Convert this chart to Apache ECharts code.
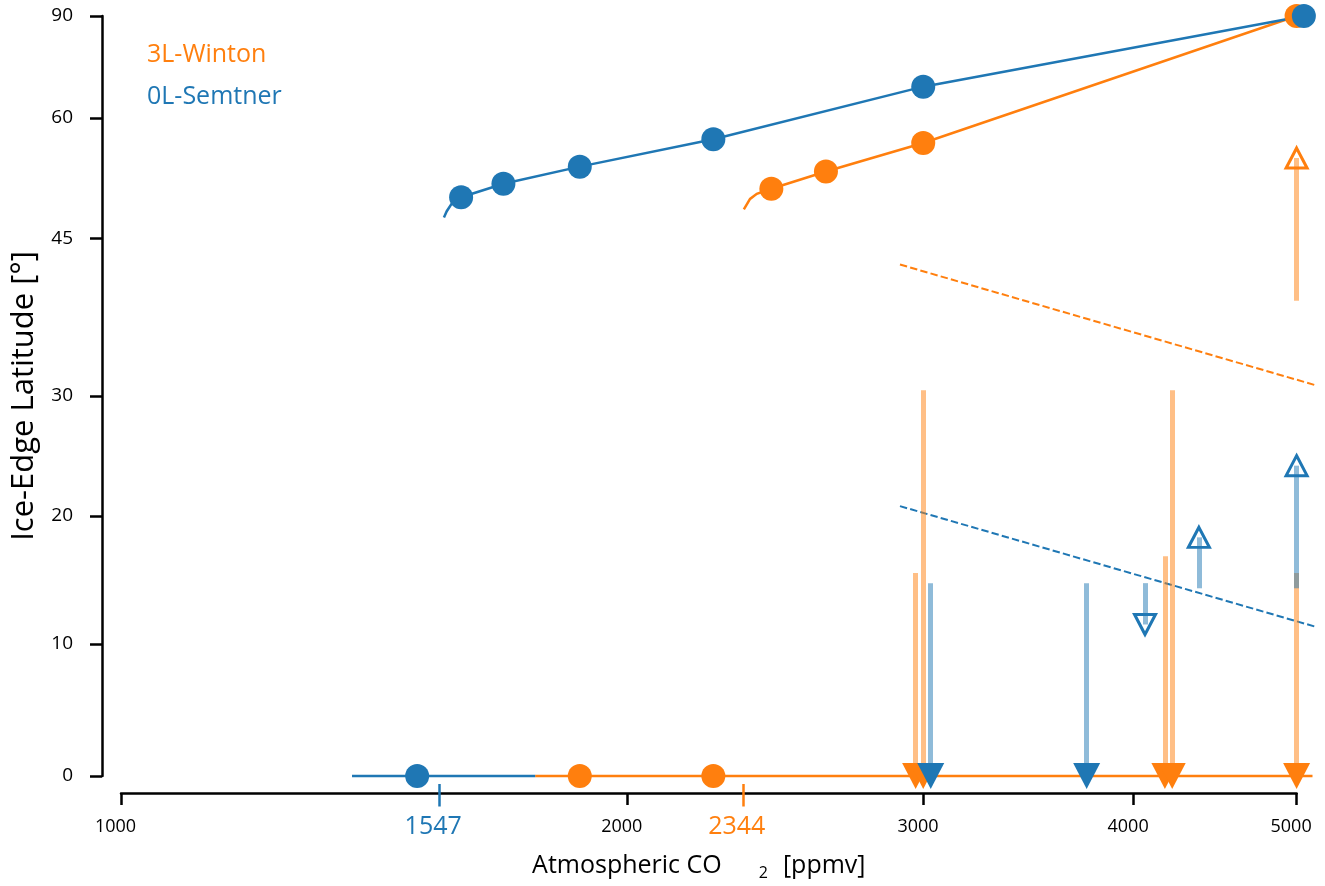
<!DOCTYPE html>
<html>
<head>
<meta charset="utf-8">
<script src="https://cdn.jsdelivr.net/npm/echarts@6/dist/echarts.min.js"></script>
<style>
html,body{margin:0;padding:0;background:#fff;}
#chart{width:1325px;height:886px;}
</style>
</head>
<body>
<div id="chart"></div>
<script>
// ---------------- DATA (x: atmospheric CO2 [ppmv], y: ice-edge latitude [deg]) ----------------
const xTickLabels = [1000, 2000, 3000, 4000, 5000];
const yTickLabels = [0, 10, 20, 30, 45, 60, 90];
const criticalSemtner = 1547;
const criticalWinton = 2344;
const modelNames = ['3L-Winton', '0L-Semtner'];

// upper (partially ice-covered) branches: fitted curve and equilibrium points
const wintonUpperLineX = [2346, 2366, 2388, 2436, 2625, 2999, 5000];
const wintonUpperLineY = [48.2, 49.4, 50.0, 50.6, 52.7, 56.4, 90];
const wintonUpperPtsX = [2436, 2625, 2999, 5000];
const wintonUpperPtsY = [50.6, 52.7, 56.4, 90];

const semtnerUpperLineX = [1556, 1562, 1573, 1593, 1688, 1874, 2250, 2999, 5050];
const semtnerUpperLineY = [47.3, 48.0, 48.9, 49.6, 51.2, 53.3, 56.9, 65.1, 90];
const semtnerUpperPtsX = [1593, 1688, 1874, 2250, 2999, 5050];
const semtnerUpperPtsY = [49.6, 51.2, 53.3, 56.9, 65.1, 90];

// lower (snowball) branches
const wintonLowerLineX = [1763, 5110];
const wintonLowerLineY = [0, 0];
const wintonLowerPtsX = [1874, 2250];
const wintonLowerPtsY = [0, 0];

const semtnerLowerLineX = [1372, 1763];
const semtnerLowerLineY = [0, 0];
const semtnerLowerPtsX = [1500];
const semtnerLowerPtsY = [0];

// unstable branches (dashed)
const wintonDashX = [2905, 5143];
const wintonDashY = [42.3, 30.9];
const semtnerDashX = [2905, 5139];
const semtnerDashY = [20.8, 11.3];

// transitions (arrows): start latitude -> end latitude
const wintonArrowX = [2968, 2999, 4175, 4217, 5000, 5000];
const wintonArrowFrom = [15.5, 30.5, 16.8, 30.5, 15.5, 38.7];
const wintonArrowTo = [0, 0, 0, 0, 0, 54.4];

const semtnerArrowX = [3030, 3751, 4063, 4374, 5000];
const semtnerArrowFrom = [14.7, 14.7, 14.7, 14.3, 14.3];
const semtnerArrowTo = [0, 0, 11.5, 18.3, 24.1];

// ---------------- STYLE ----------------
const ORANGE = '#ff7f0e';
const BLUE = '#1f77b4';
const ORANGE_LIGHT = 'rgba(255,127,14,0.5)';
const BLUE_LIGHT = 'rgba(31,119,180,0.5)';
const FONT = '"Open Sans", "Noto Sans", sans-serif';

// axis transforms: log10 for CO2, sine of latitude for ice edge
const lx = v => Math.log10(v);
const sy = d => Math.sin(d * Math.PI / 180);
const pairs = (xs, ys) => xs.map((x, i) => [lx(x), sy(ys[i])]);

const yTickPos = yTickLabels.map(sy);
const xTickPos = xTickLabels.map(lx);
const X_MIN = lx(xTickLabels[0]);
const X_MAX = lx(xTickLabels[xTickLabels.length - 1]);

function lineSeries(xs, ys, color, width, dashed) {
  return {
    type: 'lines', coordinateSystem: 'cartesian2d', polyline: true,
    clip: false, silent: true, animation: false,
    data: [{ coords: pairs(xs, ys) }],
    lineStyle: { color: color, width: width, opacity: 1, type: dashed ? [7.4, 3.2] : 'solid', cap: 'butt' }
  };
}
function dotSeries(xs, ys, color) {
  return {
    type: 'scatter', data: pairs(xs, ys), symbol: 'circle', symbolSize: 24,
    clip: false, silent: true, animation: false,
    itemStyle: { color: color, opacity: 1 }
  };
}
function arrowBars(xs, from, to, color) {
  return {
    type: 'lines', coordinateSystem: 'cartesian2d', polyline: false,
    clip: false, silent: true, animation: false,
    data: xs.map((x, i) => ({ coords: [[lx(x), sy(from[i])], [lx(x), sy(to[i])]] })),
    lineStyle: { color: color, width: 5, opacity: 1, cap: 'butt' }
  };
}
function arrowHeads(xs, from, to, color) {
  return {
    type: 'scatter', clip: false, silent: true, animation: false, symbol: 'triangle',
    data: xs.map((x, i) => {
      const hollow = to[i] !== 0;
      return {
        value: [lx(x), sy(to[i])],
        symbolRotate: to[i] < from[i] ? 180 : 0,
        symbolSize: hollow ? [21, 20] : [27, 26],
        itemStyle: hollow
          ? { color: 'rgba(255,255,255,0)', borderColor: color, borderWidth: 3, opacity: 1 }
          : { color: color, borderWidth: 0, opacity: 1 }
      };
    })
  };
}

const series = [
  lineSeries(wintonDashX, wintonDashY, ORANGE, 2, true),
  lineSeries(semtnerDashX, semtnerDashY, BLUE, 2, true),
  arrowBars(wintonArrowX, wintonArrowFrom, wintonArrowTo, ORANGE_LIGHT),
  arrowBars(semtnerArrowX, semtnerArrowFrom, semtnerArrowTo, BLUE_LIGHT),
  lineSeries(wintonLowerLineX, wintonLowerLineY, ORANGE, 2.5),
  lineSeries(semtnerLowerLineX, semtnerLowerLineY, BLUE, 2.5),
  lineSeries(wintonUpperLineX, wintonUpperLineY, ORANGE, 2.5),
  lineSeries(semtnerUpperLineX, semtnerUpperLineY, BLUE, 2.5),
  dotSeries(wintonUpperPtsX, wintonUpperPtsY, ORANGE),
  dotSeries(wintonLowerPtsX, wintonLowerPtsY, ORANGE),
  dotSeries(semtnerUpperPtsX, semtnerUpperPtsY, BLUE),
  dotSeries(semtnerLowerPtsX, semtnerLowerPtsY, BLUE),
  arrowHeads(wintonArrowX, wintonArrowFrom, wintonArrowTo, ORANGE),
  arrowHeads(semtnerArrowX, semtnerArrowFrom, semtnerArrowTo, BLUE)
];

function criticalAxis(value, color) {
  return {
    type: 'value', position: 'bottom', gridIndex: 0, min: X_MIN, max: X_MAX, offset: 8,
    axisLine: { show: false, onZero: false },
    axisTick: { show: true, customValues: [lx(value)], length: 22.5, lineStyle: { color: color, width: 2.5 } },
    axisLabel: {
      show: true, customValues: [lx(value)], margin: 30, color: color, fontSize: 25, fontFamily: FONT,
      padding: [0, 13, 0, 0],
      formatter: v => String(Math.round(Math.pow(10, v)))
    },
    splitLine: { show: false }
  };
}

const chart = echarts.init(document.getElementById('chart'), null, { renderer: 'canvas' });
chart.setOption({
  animation: false,
  backgroundColor: '#fff',
  grid: { left: 121, right: 28.4, top: 16, height: 764.5, containLabel: false },
  xAxis: [
    {
      type: 'value', position: 'bottom', min: X_MIN, max: X_MAX, offset: 17,
      name: '{a|Atmospheric CO}{s|2}{a|[ppmv]}',
      nameLocation: 'middle', nameGap: 58,
      nameTextStyle: {
        padding: [0, 20, 0, 0],
        rich: {
          a: { fontSize: 25, fontFamily: FONT, color: '#000' },
          s: { fontSize: 16, fontFamily: FONT, color: '#000', padding: [14, 15, 0, 37] }
        }
      },
      axisLine: { show: true, onZero: false, lineStyle: { color: '#000', width: 2.5 } },
      axisTick: { show: true, customValues: xTickPos, length: 12, lineStyle: { color: '#000', width: 2.5 } },
      axisLabel: {
        show: true, customValues: xTickPos, margin: 25, fontSize: 18, color: '#000', fontFamily: FONT,
        padding: [0, 11, 0, 0],
        formatter: v => String(Math.round(Math.pow(10, v)))
      },
      splitLine: { show: false }
    },
    criticalAxis(criticalSemtner, BLUE),
    criticalAxis(criticalWinton, ORANGE)
  ],
  yAxis: {
    type: 'value', min: 0, max: 1, offset: 19,
    name: 'Ice-Edge Latitude [°]', nameLocation: 'middle', nameGap: 62,
    nameTextStyle: { fontSize: 31, fontFamily: FONT, color: '#000' },
    axisLine: { show: true, onZero: false, lineStyle: { color: '#000', width: 2.5 } },
    axisTick: { show: true, customValues: yTickPos, length: 12, lineStyle: { color: '#000', width: 2.5 } },
    axisLabel: {
      show: true, customValues: yTickPos, margin: 29, fontSize: 19, color: '#000', fontFamily: FONT,
      formatter: v => {
        let best = 0;
        yTickPos.forEach((p, i) => { if (Math.abs(p - v) < Math.abs(yTickPos[best] - v)) best = i; });
        return String(yTickLabels[best]);
      }
    },
    splitLine: { show: false }
  },
  graphic: [
    { type: 'text', x: 147, y: 55, silent: true,
      style: { text: modelNames[0], fill: ORANGE, fontSize: 25, fontFamily: FONT, verticalAlign: 'middle', align: 'left' } },
    { type: 'text', x: 147, y: 97, silent: true,
      style: { text: modelNames[1], fill: BLUE, fontSize: 25, fontFamily: FONT, verticalAlign: 'middle', align: 'left' } }
  ],
  series: series
});
</script>
</body>
</html>
